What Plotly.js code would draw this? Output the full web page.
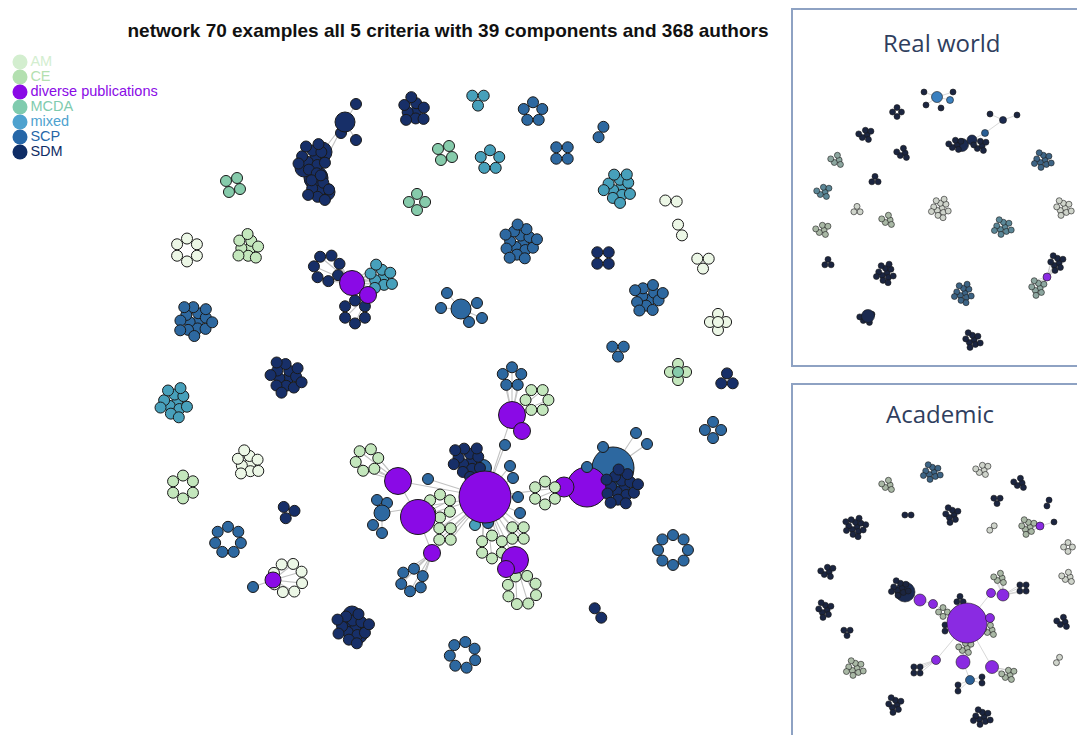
<!DOCTYPE html>
<html>
<head>
<meta charset="utf-8">
<script src="https://cdn.plot.ly/plotly-3.0.1.min.js"></script>
<style>html,body{margin:0;padding:0;background:#fff;}#chart{width:1077px;height:735px;}</style>
</head>
<body>
<div id="chart"></div>
<script>
// ---------- categories ----------
const groups = ['AM', 'CE', 'diverse publications', 'MCDA', 'mixed', 'SCP', 'SDM'];
const titleText = 'network 70 examples all 5 criteria with 39 components and 368 authors';
const insetTitles = ['Real world', 'Academic'];

// ---------- main network: hubs (large nodes) ----------
const mainHubX = [485, 398, 418, 432, 512, 522, 515, 506, 587, 564, 613, 382, 483, 352, 368, 461, 273, 345, 322, 304, 316, 326, 347, 357, 352];
const mainHubY = [497, 481, 517, 553, 415, 431, 560, 569, 487, 487, 468, 513, 468, 283, 295, 309, 580, 122, 152, 168, 178, 192, 625, 633, 615];
const mainHubW = [52, 27, 35, 17, 27, 17, 27, 17, 40, 20, 42, 16, 17, 25, 17, 20, 16, 20, 20, 18, 24, 18, 20, 22, 18];
const mainHubG = [2, 2, 2, 2, 2, 2, 2, 2, 2, 2, 5, 5, 5, 2, 2, 5, 2, 6, 6, 6, 6, 6, 6, 6, 6];
const mainHubLinkA = [0, 0, 0, 0, 0, 0, 0, 0, 1, 2, 4, 6, 8, 8, 13, 17, 17];
const mainHubLinkB = [1, 2, 3, 4, 6, 9, 11, 12, 2, 3, 5, 7, 9, 10, 14, 18, 20];

// ---------- main network: small-node components ----------
const mainCX = [312, 318, 356, 356, 341, 413, 478, 533, 601, 445,
                490, 562, 618, 233, 417, 671, 680, 187, 247, 520,
                603, 703, 195, 648, 718, 718, 618, 678, 678, 727,
                713, 327, 380, 355, 447, 441, 477, 482, 469, 285,
                174, 247, 183, 288, 228, 288, 253, 352, 463, 598,
                673, 468, 512, 537, 367, 440, 445, 492, 518, 522,
                545, 412, 621, 603, 636, 647, 587, 428, 505, 510,
                518, 520, 475, 488, 513, 377, 387, 373, 382];
const mainCY = [158, 188, 104, 140, 133, 110, 99, 112, 132, 153,
                160, 153, 187, 185, 202, 201, 230, 250, 247, 243,
                258, 262, 320, 297, 322, 322, 350, 372, 372, 380,
                430, 268, 277, 312, 293, 308, 303, 318, 322, 377,
                402, 463, 487, 512, 540, 578, 587, 628, 655, 613,
                550, 461, 377, 400, 460, 506, 534, 547, 533, 590,
                493, 580, 488, 447, 433, 444, 467, 479, 445, 466,
                497, 513, 525, 523, 478, 500, 503, 525, 533];
const mainCN = [12, 9, 1, 1, 1, 9, 3, 5, 2, 4,
                5, 4, 12, 4, 4, 2, 2, 6, 9, 16,
                4, 3, 15, 12, 4, 1, 3, 4, 1, 3,
                4, 7, 9, 6, 1, 1, 1, 1, 1, 14,
                12, 9, 6, 3, 7, 8, 1, 14, 7, 2,
                8, 13, 5, 6, 6, 6, 4, 6, 4, 8,
                6, 6, 16, 1, 1, 1, 1, 1, 1, 1,
                1, 1, 1, 1, 1, 1, 1, 1, 1];
const mainCG = [6, 6, 6, 6, 6, 6, 4, 5, 5, 3,
                4, 5, 4, 3, 3, 0, 0, 0, 1, 5,
                6, 0, 5, 5, 0, 0, 5, 1, 3, 6,
                5, 6, 4, 6, 5, 5, 5, 5, 5, 6,
                4, 0, 1, 6, 5, 0, 5, 6, 5, 6,
                5, 6, 5, 1, 1, 1, 1, 1, 1, 1,
                1, 5, 6, 5, 5, 5, 5, 5, 5, 5,
                5, 5, 4, 5, 5, 5, 5, 5, 5];
const mainCHub = [18, 20, 17, 17, 17, -1, -1, -1, -1, -1,
                  -1, -1, -1, -1, -1, -1, -1, -1, -1, -1,
                  -1, -1, -1, -1, -1, -1, -1, -1, -1, -1,
                  -1, 13, 13, 14, 15, 15, 15, 15, 15, -1,
                  -1, -1, -1, -1, -1, 16, 16, 22, -1, -1,
                  -1, 0, 4, 4, 1, 2, 0, 0, 0, 6,
                  9, 3, 8, 10, 10, 10, 8, 0, 0, 0,
                  0, 0, 0, 0, 0, 11, 11, 11, 11];
const mainCRot = [0, 40, 0, 0, 0, 20, 180, 0, 25, 30,
                  0, 45, 10, 30, 0, 95, -20, 0, 30, 0,
                  45, 180, 20, 50, 0, 0, 180, 0, 0, 0,
                  0, 20, 10, 0, 0, 0, 0, 0, 0, 30,
                  0, 15, 0, 200, 0, 20, 0, 0, 10, -35,
                  0, 10, 0, 30, 20, 0, 45, 0, 45, 20,
                  0, 10, 0, 0, 0, 0, 0, 0, 0, 0,
                  0, 0, 0, 0, 0, 0, 0, 0, 0];

// ---------- inset "Real world" ----------
const rwHubX = [937, 950, 1003, 962, 972, 985, 1047, 868];
const rwHubY = [97, 100, 120, 145, 140, 133, 277, 316];
const rwHubW = [11, 7, 7, 13, 10, 7, 8, 13];
const rwHubG = [4, 4, 6, 6, 6, 5, 2, 6];
const rwHubLinkA = [0, 2, 3];
const rwHubLinkB = [1, 5, 5];
const rwCX = [924, 926, 953, 941, 990, 1017, 955, 980, 897, 865, 903, 837, 1043, 875, 823, 857, 888, 940, 1063, 1003, 822, 828, 885, 963, 1057, 1038, 866, 972];
const rwCY = [92, 105, 92, 108, 114, 115, 145, 146, 112, 135, 153, 160, 160, 180, 192, 210, 220, 208, 208, 227, 230, 263, 273, 293, 263, 288, 318, 340];
const rwCN = [1, 1, 1, 1, 1, 1, 6, 6, 4, 6, 5, 5, 10, 3, 6, 3, 5, 12, 9, 10, 6, 3, 12, 12, 8, 8, 6, 9];
const rwCG = [6, 6, 6, 6, 6, 6, 6, 6, 6, 6, 6, 3, 5, 6, 4, 0, 1, 0, 0, 4, 1, 6, 6, 5, 6, 3, 6, 6];
const rwCHub = [0, 0, 0, 0, 2, 2, 3, 4, -1, -1, -1, -1, -1, -1, -1, -1, -1, -1, -1, -1, -1, -1, -1, -1, 6, 6, 7, -1];

// ---------- inset "Academic" ----------
const acHubX = [967, 905, 920, 933, 991, 1003, 990, 963, 992, 936, 970, 1040];
const acHubY = [623, 592, 600, 604, 593, 595, 618, 662, 667, 660, 680, 526];
const acHubW = [40, 20, 12, 9, 9, 12, 9, 14, 13, 9, 9, 8];
const acHubG = [2, 6, 2, 2, 2, 2, 2, 2, 2, 2, 5, 2];
const acHubLinkA = [1, 2, 3, 0, 4, 0, 0, 0, 0, 7];
const acHubLinkB = [2, 3, 0, 4, 5, 6, 7, 8, 9, 10];
const acCX = [932, 888, 982, 1020, 997, 1048, 908, 952, 855, 992, 1028, 1054, 1068, 827, 1068, 825, 847, 855, 895, 982, 1063, 1058, 900, 1000, 1023, 1008, 917, 965, 943, 990, 945, 958, 982, 960];
const acCY = [472, 485, 470, 483, 500, 503, 515, 515, 527, 528, 527, 522, 547, 572, 577, 610, 632, 668, 705, 717, 622, 660, 588, 578, 588, 675, 670, 648, 612, 630, 628, 688, 680, 600];
const acCN = [10, 5, 6, 5, 3, 2, 2, 8, 14, 2, 8, 1, 4, 6, 5, 8, 3, 10, 8, 10, 5, 2, 10, 5, 4, 6, 4, 6, 4, 5, 2, 2, 2, 3];
const acCG = [5, 1, 0, 6, 6, 6, 6, 6, 6, 0, 1, 6, 0, 6, 0, 6, 6, 1, 6, 6, 6, 0, 6, 1, 6, 1, 6, 1, 1, 1, 6, 6, 6, 6];
const acCHub = [-1, -1, -1, -1, -1, -1, -1, -1, -1, -1, 11, 11, -1, -1, -1, -1, -1, -1, -1, -1, -1, -1, 1, 5, 5, 8, 9, 0, 0, 0, 0, 10, 10, 0];
const acCRot = [0, 0, 0, 0, 180, 20, 90, 0, 0, 45, 0, 0, 0, 0, 0, 0, 180, 0, 0, 0, 0, 30, 0, 0, 45, 0, 45, 0, 0, 0, 0, 0, 0, 0];

// ---------- styles ----------
const mainColors = ['#ecf7e6', '#c4e7bd', '#8a0ae6', '#86cbab', '#47a0bb', '#2d68a0', '#172f68'];
const legendColors = ['#d3eecf', '#b3e0b0', '#8a0ae6', '#7fcbae', '#4ea2cf', '#2667a8', '#0f2d66'];
const insetColors = ['#cfd4cb', '#a9b8a5', '#8a2be2', '#8ca69f', '#5b8797', '#3d6485', '#1b2540'];
const insetHubColors = ['#cfd4cb', '#a9b8a5', '#8a2be2', '#8ca69f', '#3a80c0', '#2a5f95', '#1b2a50'];

function clusterNodes(cx, cy, n, d, rotDeg, ringMax, density) {
  const pts = [];
  const a0 = (rotDeg || 0) * Math.PI / 180;
  if (n === 1) { pts.push([cx, cy]); }
  else if (n <= ringMax) {
    const R = 0.52 * d / Math.sin(Math.PI / n);
    for (let i = 0; i < n; i++) {
      const a = a0 + 2 * Math.PI * i / n - Math.PI / 2;
      pts.push([cx + R * Math.cos(a), cy + R * Math.sin(a)]);
    }
  } else {
    const c = density * d, ga = Math.PI * (3 - Math.sqrt(5));
    for (let i = 0; i < n; i++) {
      const r = c * Math.sqrt(i + 0.5), a = a0 + i * ga;
      pts.push([cx + r * Math.cos(a), cy + r * Math.sin(a)]);
    }
  }
  return pts;
}

function buildNet(net, d, colors, hubColors, underHubs, lineW, ringMax, density) {
  const ex = [], ey = [];
  for (let k = 0; k < net.la.length; k++) {
    const a = net.la[k], b = net.lb[k];
    ex.push(net.hx[a], net.hx[b], null); ey.push(net.hy[a], net.hy[b], null);
  }
  const nx = [], ny = [], nc = [];
  for (let i = 0; i < net.cx.length; i++) {
    const pts = clusterNodes(net.cx[i], net.cy[i], net.cn[i], d, net.rot ? net.rot[i] : 0, ringMax, density);
    const h = net.ch[i];
    pts.forEach(p => {
      nx.push(p[0]); ny.push(p[1]); nc.push(colors[net.cg[i]]);
      if (h >= 0) { ex.push(net.hx[h], p[0], null); ey.push(net.hy[h], p[1], null); }
    });
  }
  const order = net.hx.map((_, i) => i).sort((a, b) => net.hw[b] - net.hw[a]);
  const under = order.filter(i => underHubs.includes(i));
  const over = order.filter(i => !underHubs.includes(i));
  const hubTrace = (idx) => ({
    type: 'scatter', mode: 'markers', hoverinfo: 'skip', showlegend: false,
    x: idx.map(i => net.hx[i]), y: idx.map(i => net.hy[i]),
    marker: { size: idx.map(i => net.hw[i]), color: idx.map(i => hubColors[net.hg[i]]), line: { color: '#1a1a1a', width: lineW }, opacity: 1 }
  });
  return [
    { type: 'scatter', mode: 'lines', x: ex, y: ey, hoverinfo: 'skip', showlegend: false, line: { color: '#c2c2c2', width: lineW * 1.1 } },
    hubTrace(under),
    { type: 'scatter', mode: 'markers', x: nx, y: ny, hoverinfo: 'skip', showlegend: false,
      marker: { size: d, color: nc, line: { color: '#1a1a1a', width: lineW } } },
    hubTrace(over)
  ];
}

const mainNet = { hx: mainHubX, hy: mainHubY, hw: mainHubW, hg: mainHubG, la: mainHubLinkA, lb: mainHubLinkB,
  cx: mainCX, cy: mainCY, cn: mainCN, cg: mainCG, ch: mainCHub, rot: mainCRot };
const rwNet = { hx: rwHubX, hy: rwHubY, hw: rwHubW, hg: rwHubG, la: rwHubLinkA, lb: rwHubLinkB,
  cx: rwCX, cy: rwCY, cn: rwCN, cg: rwCG, ch: rwCHub };
const acNet = { hx: acHubX, hy: acHubY, hw: acHubW, hg: acHubG, la: acHubLinkA, lb: acHubLinkB,
  cx: acCX, cy: acCY, cn: acCN, cg: acCG, ch: acCHub, rot: acCRot };

let traces = [];
traces = traces.concat(buildNet(mainNet, 11, mainColors, mainColors, [10, 8, 9, 12, 18, 19, 20, 21, 22, 23, 24], 1, 8, 0.43));
traces = traces.concat(buildNet(rwNet, 6, insetColors, insetHubColors, [3, 4], 0.6, 4, 0.5));
traces = traces.concat(buildNet(acNet, 6, insetColors, insetHubColors, [1], 0.6, 4, 0.5));

// legend drawn as markers + text
const legX = 20, legY0 = 62, legStep = 15;
traces.push({
  type: 'scatter', mode: 'markers+text', hoverinfo: 'skip', showlegend: false,
  x: groups.map(() => legX), y: groups.map((_, i) => legY0 + i * legStep),
  text: groups, textposition: 'middle right',
  textfont: { family: 'Liberation Sans, Arial, sans-serif', size: 14.5, color: legendColors },
  marker: { size: 15, color: legendColors, line: { width: 0 } }
});

const W = 1077, H = 735;
const layout = {
  width: W, height: H,
  margin: { l: 0, r: 0, t: 0, b: 0 },
  paper_bgcolor: '#ffffff', plot_bgcolor: '#ffffff',
  showlegend: false,
  title: { text: '<b>' + titleText + '</b>', font: { family: 'Liberation Sans, Arial, sans-serif', size: 19, color: '#111' },
    x: 448 / W, xanchor: 'center', y: 1 - 30 / H, yanchor: 'middle', xref: 'container', yref: 'container' },
  xaxis: { range: [0, W], visible: false, fixedrange: true },
  yaxis: { range: [H, 0], visible: false, fixedrange: true },
  shapes: [
    { type: 'rect', xref: 'x', yref: 'y', x0: 792, x1: 1085, y0: 9, y1: 366, line: { color: '#8ea2c3', width: 2 }, fillcolor: 'rgba(255,255,255,0)', layer: 'below' },
    { type: 'rect', xref: 'x', yref: 'y', x0: 792, x1: 1085, y0: 384, y1: 745, line: { color: '#8ea2c3', width: 2 }, fillcolor: 'rgba(255,255,255,0)', layer: 'below' }
  ],
  annotations: [
    { xref: 'x', yref: 'y', x: 942, y: 42, text: insetTitles[0], showarrow: false, xanchor: 'center', yanchor: 'middle',
      font: { family: 'Open Sans, Liberation Sans, sans-serif', size: 24, color: '#2f3e5e' } },
    { xref: 'x', yref: 'y', x: 940, y: 413, text: insetTitles[1], showarrow: false, xanchor: 'center', yanchor: 'middle',
      font: { family: 'Open Sans, Liberation Sans, sans-serif', size: 24, color: '#2f3e5e' } }
  ]
};

Plotly.newPlot('chart', traces, layout, { staticPlot: true, displayModeBar: false });
</script>
</body>
</html>
